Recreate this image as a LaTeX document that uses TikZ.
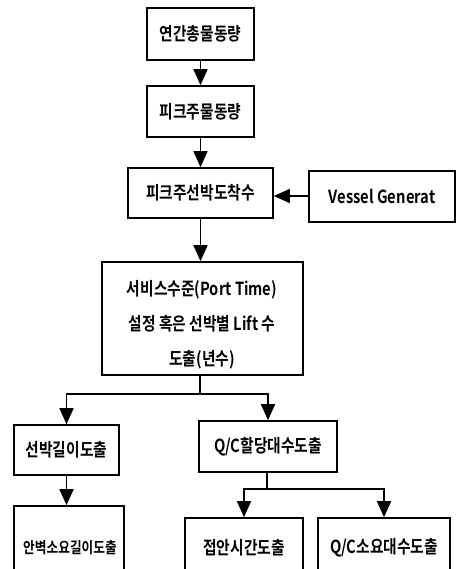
\documentclass[tikz,border=0pt]{standalone}
\usepackage{fontspec}
\setmainfont{Noto Sans CJK KR}
\newfontfamily\kr[FakeStretch=0.82]{Noto Sans CJK KR Bold}
\usetikzlibrary{arrows.meta}
\begin{document}
\begin{tikzpicture}[x=1pt,y=-1pt,
  boxstyle/.style={draw,line width=1.6pt,inner sep=0pt,font=\kr\fontsize{18}{20}\selectfont,align=center},
  lbl/.style={inner sep=0pt,font=\kr\fontsize{18}{20}\selectfont,align=center},
  conn/.style={line width=1.6pt,-{Triangle[length=16pt,width=14pt]}},
  plain/.style={line width=1.6pt}]
\useasboundingbox[fill=white] (0,0) rectangle (457,569);
\clip (0,0) rectangle (457,569);
\node[boxstyle,minimum width=107pt,minimum height=52pt] (b1) at (200.5,34) {연간총물동량};
\node[boxstyle,minimum width=107pt,minimum height=51pt] (b2) at (200.5,111.5) {피크주물동량};
\node[boxstyle,minimum width=145pt,minimum height=50pt] (b3) at (200.5,193) {피크주선박도착수};
\node[boxstyle,minimum width=146pt,minimum height=51pt] (vg) at (382,196.5) {Vessel Generat};
\node[boxstyle,minimum width=201pt,minimum height=113pt] (b4) at (202.5,318.5) {};
\node[lbl,font=\kr\fontsize{18}{35}\selectfont] (t4) at (202,325) {서비스수준(Port Time)\\설정 혹은 선박별 Lift 수\\도출(년수)};
\node[boxstyle,minimum width=105pt,minimum height=50pt] (b5) at (66.5,450) {선박길이도출};
\node[boxstyle,minimum width=138pt,minimum height=51pt] (b6) at (268,446.5) {Q/C할당대수도출};
\node[boxstyle,minimum width=110pt,minimum height=70pt] (b7) at (69,541) {};
\node[boxstyle,minimum width=118pt,minimum height=70pt] (b8) at (244,553) {};
\node[boxstyle,minimum width=132pt,minimum height=70pt] (b9) at (384,553) {};
\node[lbl,font=\kr\fontsize{15.5}{20}\selectfont] (t7) at (70,548) {안벽소요길이도출};
\node[lbl] (t8) at (244,548) {접안시간도출};
\node[lbl] (t9) at (384,548) {Q/C소요대수도출};
\draw[conn] (b1) -- (b2);
\draw[conn] (b2) -- (b3);
\draw[conn] (vg.west |- 0,196) -- (b3.east |- 0,196);
\draw[conn] (b3) -- (b3 |- b4.north);
\coordinate (j1) at (200,394);
\draw[plain] (b4.south -| j1) -- (j1);
\draw[conn] (j1) -| (b5.north);
\draw[conn] (j1) -| (b6.north);
\draw[conn] (b5) -- (b5 |- b7.north);
\coordinate (j2) at (267,489);
\draw[plain] (b6.south -| j2) -- (j2);
\draw[conn] (j2) -| (b8.north);
\draw[conn] (j2) -| (b9.north);
\end{tikzpicture}
\end{document}
